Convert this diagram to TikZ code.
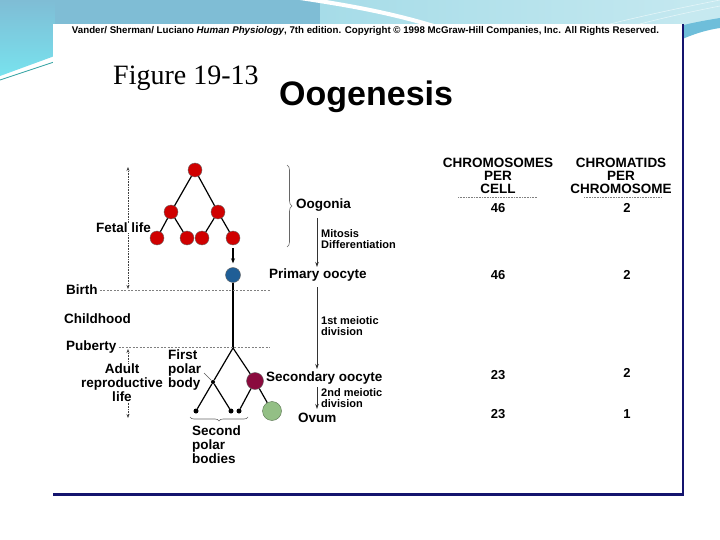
\documentclass[tikz,border=0pt]{standalone}
\usepackage{fontspec}
\setmainfont{Liberation Sans}
\newfontfamily\serifface{Liberation Serif}
\usetikzlibrary{arrows.meta,decorations.pathreplacing}
\definecolor{cellred}{HTML}{D00000}
\definecolor{cellblue}{HTML}{1F5E96}
\definecolor{cellmaroon}{HTML}{8A0B3E}
\definecolor{cellgreen}{HTML}{93BF85}
\definecolor{navyline}{HTML}{14146E}
\definecolor{bandblue}{HTML}{7FBDD5}
\definecolor{bandcyan}{HTML}{78E2EE}
\definecolor{bandlight}{HTML}{A6DCE8}
\definecolor{bandpale}{HTML}{C6E9F0}
\definecolor{swooshdark}{HTML}{6EBEDA}
\definecolor{tealline}{HTML}{3AA6A6}
\begin{document}
\begin{tikzpicture}[x=1pt,y=-1pt,
  lbl/.style={font=\fontsize{13.5}{14}\selectfont\bfseries, inner sep=0pt},
  small/.style={font=\fontsize{11}{11.5}\selectfont\bfseries, inner sep=0pt, align=left},
  head/.style={font=\fontsize{13.5}{13}\selectfont\bfseries, inner sep=0pt, align=center},
  num/.style={font=\fontsize{13}{13}\selectfont\bfseries, inner sep=0pt},
  cell/.style={circle, minimum size=#1, inner sep=0pt, draw=black!60, line width=0.4pt},
  pdot/.style={circle, fill=black, minimum size=5pt, inner sep=0pt},
  link/.style={line width=1.2pt, black},
  span/.style={densely dotted, line width=0.6pt, black!75, {Stealth[length=4pt,width=3pt]}-{Stealth[length=4pt,width=3pt]}},
  flow/.style={line width=0.7pt, black!80, -{Stealth[length=5pt,width=3.5pt]}},
  sepline/.style={gray, line width=0.5pt, dash pattern=on 2pt off 1.5pt},
  ul/.style={gray, line width=0.6pt, dash pattern=on 1pt off 0.6pt},
  bracestyle/.style={decorate, gray!80!black, line width=0.6pt}
]
\useasboundingbox (0,0) rectangle (720,540);
% background
\fill[white] (0,0) rectangle (720,540);
\shade[top color=bandblue, bottom color=bandcyan] (0,0) -- (60,0) -- (60,54) -- (0,76) -- cycle;
\draw[tealline, line width=0.8pt] (0,80) -- (60,60);
\fill[bandblue] (55,0) rectangle (320,26);
\shade[left color=bandlight, right color=bandpale] (320,0) rectangle (720,26);
\draw[white, line width=4pt] (300,-2) .. controls (340,4) and (390,12) .. (440,28);
\fill[bandpale] (680,0) rectangle (720,26);
\fill[swooshdark] (680,26) .. controls (695,22) and (708,20) .. (720,18) -- (720,28) .. controls (706,30) and (694,34) .. (680,40) -- cycle;
\draw[white!70!bandlight, line width=0.6pt] (610,24) .. controls (650,14) and (690,6) .. (720,0);
\draw[white!70!bandlight, line width=0.6pt] (640,24) .. controls (670,16) and (700,10) .. (720,6);
% panel
\fill[white] (53,24) rectangle (683,494);
\draw[navyline, line width=1.3pt] (683,24) -- (683,495);
\draw[navyline, line width=2.4pt] (53,494.5) -- (684,494.5);
% titles
\node[inner sep=0pt] (hdr) at (365.5,31) {\resizebox{587pt}{!}{\bfseries Vander/ Sherman/ Luciano \textit{Human Physiology}, 7th edition. Copyright © 1998 McGraw-Hill Companies, Inc. All Rights Reserved.}};
\node[inner sep=0pt, anchor=west, font=\serifface\fontsize{28}{28}\selectfont] (fig) at (113,78) {Figure 19-13};
\node[inner sep=0pt, anchor=west, font=\fontsize{34}{34}\selectfont\bfseries] (ttl) at (279,97) {Oogenesis};
% time spans and separators (drawn under the labels)
\coordinate (ftop) at (128,167);
\coordinate (fbot) at (128,289);
\coordinate (atop) at (128,349);
\coordinate (abot) at (128,418);
\draw[span] (ftop) -- (fbot);
\draw[span] (atop) -- (abot);
% cells
\node[cell=14pt, fill=cellred] (c1) at (195,170) {};
\node[cell=14pt, fill=cellred] (c2) at (171,212) {};
\node[cell=14pt, fill=cellred] (c3) at (218,212) {};
\node[cell=14pt, fill=cellred] (c4) at (157,238) {};
\node[cell=14pt, fill=cellred] (c5) at (187,238) {};
\node[cell=14pt, fill=cellred] (c6) at (202,238) {};
\node[cell=14pt, fill=cellred] (c7) at (233,238) {};
\node[cell=15pt, fill=cellblue] (po) at (233,275) {};
\coordinate (br) at (233,348);
\node[circle, fill=black, minimum size=4pt, inner sep=0pt] (fpb) at (213,382) {};
\node[cell=17pt, fill=cellmaroon] (so) at (255,381) {};
\node[pdot] (sp1) at (196,411) {};
\node[pdot] (sp2) at (231,411) {};
\node[pdot] (sp3) at (239,411) {};
\node[cell=19pt, fill=cellgreen, draw=cellgreen!60!black] (ov) at (272,411) {};
% tree links
\draw[link] (c1) -- (c2);
\draw[link] (c1) -- (c3);
\draw[link] (c2) -- (c4);
\draw[link] (c2) -- (c5);
\draw[link] (c3) -- (c6);
\draw[link] (c3) -- (c7);
\draw[link, -{Stealth[length=5pt,width=4pt]}, shorten <=3pt, shorten >=4pt] (c7) -- (po);
\draw[link] (po) -- (br);
\draw[link] (br) -- (fpb) -- (sp1);
\draw[link] (fpb) -- (sp2);
\draw[link] (br) -- (so);
\draw[link] (so) -- (sp3);
\draw[link] (so) -- (ov);
% left labels
\node[lbl, anchor=west, fill=white] (fetal) at (96,228) {Fetal life};
\node[lbl, anchor=west] (birth) at (66,290) {Birth};
\node[lbl, anchor=west] (child) at (64,319) {Childhood};
\node[lbl, anchor=west] (pub) at (66,347) {Puberty};
\node[lbl, align=center, fill=white] (adult) at (122,383) {Adult\\reproductive\\life};
\node[lbl, anchor=west, align=left] (first) at (168,370) {First\\polar\\body};
\node[lbl, anchor=north west, align=left] (second) at (192,426) {Second\\polar\\bodies};
\coordinate (birthend) at (270,290);
\coordinate (pubend) at (270,347);
\draw[sepline] (birth.east) ++(2,0) -- (birthend);
\draw[sepline] (pub.east) ++(2,0) -- (pubend);
\coordinate (polartip) at (204,373);
\draw[gray!70!black, line width=0.5pt] (polartip) -- (fpb);
\coordinate (sbl) at (190,417);
\coordinate (sbr) at (248,417);
\draw[bracestyle, decoration={brace, mirror, amplitude=4pt}] (sbl) -- (sbr);
% right labels
\coordinate (obt) at (287,165);
\coordinate (obb) at (287,247);
\draw[bracestyle, decoration={brace, amplitude=5pt}] (obt) -- (obb);
\node[lbl, anchor=west] (oog) at (296,205) {Oogonia};
\node[small, anchor=west] (mit) at (321,239) {Mitosis\\Differentiation};
\node[lbl, anchor=west] (prim) at (269,275) {Primary oocyte};
\node[small, anchor=west] (m1) at (321,326) {1st meiotic\\division};
\node[lbl, anchor=west] (sec) at (266,378) {Secondary oocyte};
\node[small, anchor=west] (m2) at (321,398) {2nd meiotic\\division};
\node[lbl, anchor=west] (ovum) at (298,418) {Ovum};
\coordinate (a1s) at (317,218);
\coordinate (a1e) at (317,267);
\coordinate (a2s) at (317,287);
\coordinate (a2e) at (317,369);
\coordinate (a3s) at (317,387);
\coordinate (a3e) at (317,409);
\draw[flow] (a1s) -- (a1e);
\draw[flow] (a2s) -- (a2e);
\draw[flow] (a3s) -- (a3e);
% table
\node[head] (h1) at (498,176) {CHROMOSOMES\\PER\\CELL};
\node[head] (h2) at (621,176) {CHROMATIDS\\PER\\CHROMOSOME};
\coordinate (u1l) at (458,197);
\coordinate (u1r) at (537,197);
\coordinate (u2l) at (584,197);
\coordinate (u2r) at (661,197);
\draw[ul] (u1l) -- (u1r);
\draw[ul] (u2l) -- (u2r);
\node[num] (n11) at (498,208) {46};
\node[num] (n12) at (627,208) {2};
\node[num] (n21) at (498,275) {46};
\node[num] (n22) at (627,275) {2};
\node[num] (n31) at (498,375) {23};
\node[num] (n32) at (627,373) {2};
\node[num] (n41) at (498,414) {23};
\node[num] (n42) at (627,414) {1};
\end{tikzpicture}
\end{document}
